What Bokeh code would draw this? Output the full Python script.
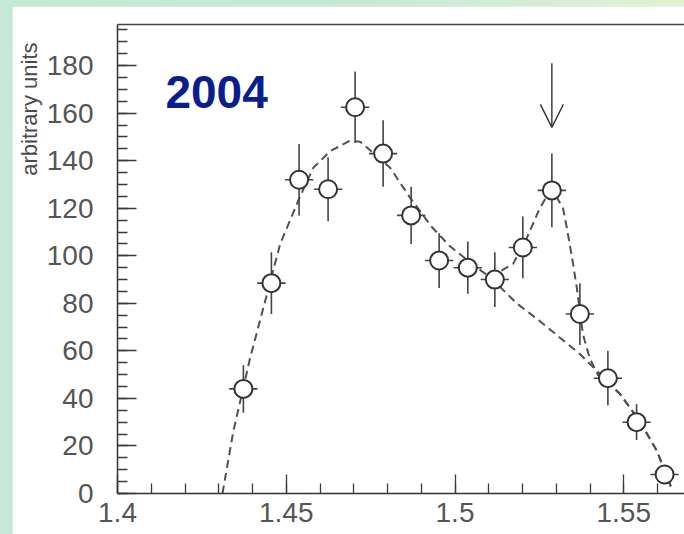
import numpy as np
from bokeh.plotting import figure
from bokeh.models import (Range1d, FixedTicker, CustomJSTickFormatter, LinearAxis,
                          Label, Arrow, OpenHead, ColumnDataSource, Title)
from bokeh.layouts import column
from bokeh.embed import file_html
from bokeh.resources import INLINE

# ---- data ----
mass = [1.4373, 1.4456, 1.4538, 1.4624, 1.4704, 1.4787, 1.4870, 1.4953,
        1.5038, 1.5118, 1.5201, 1.5287, 1.5370, 1.5453, 1.5538, 1.5621]
counts = [44, 88.5, 132, 128, 162.5, 143, 117, 98,
          95, 90, 103.5, 127.5, 75.5, 48.5, 30, 8]
errors = [10, 13, 15, 13.5, 15, 14, 12, 11.5,
          11, 11.5, 13, 15.5, 13, 11.5, 7.5, 4]
bin_half_width = 0.0042

fit_x = [1.4311, 1.4343, 1.4393, 1.4432, 1.4482, 1.4538, 1.4580, 1.4630,
         1.4689, 1.4719, 1.4757, 1.4808, 1.4867, 1.4932, 1.4985, 1.5065,
         1.5104, 1.5172, 1.5213, 1.5251, 1.5272, 1.5290, 1.5320, 1.5331,
         1.5346, 1.5361, 1.5379, 1.5399, 1.5423, 1.5488, 1.5547, 1.5598, 1.5645]
fit_y = [0, 26, 57, 78, 105, 124, 137, 144,
         148.4, 148, 143.4, 137, 124.4, 112, 104, 95,
         91, 96.6, 107.5, 120, 125, 127.4, 120, 112,
         100, 86.5, 67, 57, 50, 42, 30.5, 18, 1]

bg_x = [1.5104, 1.5183, 1.5251, 1.5311, 1.5370, 1.5420, 1.5488, 1.5547, 1.5598, 1.5645]
bg_y = [91, 80, 72.6, 65.5, 58.7, 51.6, 42, 30.5, 18, 1]

x_ticks = [1.4, 1.45, 1.5, 1.55]
x_tick_labels = ["1.4", "1.45", "1.5", "1.55"]
x_minor = [round(1.4 + 0.01 * i, 2) for i in range(17)]
y_ticks = list(range(0, 181, 20))
y_minor = list(range(0, 200, 5))

peak_mass = 1.5287
arrow_top = 181
arrow_tip = 154

title_text = "2004"
y_label = "arbitrary units"

# ---- figure ----
p = figure(width=672, height=528, output_backend="svg", toolbar_location=None,
           x_range=Range1d(1.4, 1.568), y_range=Range1d(0, 197.3),
           min_border_left=105, min_border_right=0, min_border_top=18,
           min_border_bottom=41, x_axis_type=None, y_axis_type=None)
p.margin = (6, 0, 0, 12)
p.background_fill_color = "white"
p.border_fill_color = "white"
p.outline_line_color = None
p.xgrid.visible = False
p.ygrid.visible = False

tick_col = "#3a3a3a"
lab_col = "#555555"

xaxis = LinearAxis(ticker=FixedTicker(ticks=x_ticks, minor_ticks=x_minor),
                   formatter=CustomJSTickFormatter(
                       args=dict(tv=x_ticks, labels=x_tick_labels),
                       code="const i = tv.findIndex(t => Math.abs(t - tick) < 1e-9); return i >= 0 ? labels[i] : '';"))
yaxis = LinearAxis(ticker=FixedTicker(ticks=y_ticks, minor_ticks=y_minor))
for ax in (xaxis, yaxis):
    ax.axis_line_color = "#333333"
    ax.axis_line_width = 1.5
    ax.major_tick_in = 19
    ax.major_tick_out = 0
    ax.minor_tick_in = 10
    ax.minor_tick_out = 0
    ax.major_tick_line_color = tick_col
    ax.minor_tick_line_color = tick_col
    ax.major_tick_line_width = 1.3
    ax.minor_tick_line_width = 1.3
    ax.major_label_text_font = "Liberation Sans"
    ax.major_label_text_font_size = "28px"
    ax.major_label_text_color = lab_col
xaxis.major_label_standoff = 9
yaxis.major_label_standoff = 24
p.add_layout(xaxis, "below")
p.add_layout(yaxis, "left")

top_axis = LinearAxis(ticker=FixedTicker(ticks=[]), axis_line_color="#444444",
                      axis_line_width=1.5, major_tick_in=0, major_tick_out=0,
                      minor_tick_in=0, minor_tick_out=0,
                      major_label_text_font_size="0px", major_label_standoff=0)
p.add_layout(top_axis, "above")

# y-axis caption, placed at the top end of the axis
p.add_layout(Title(text=y_label, align="right", offset=18, standoff=4,
                   text_font="Liberation Sans", text_font_style="normal",
                   text_font_size="22px", text_color="#4a4a4a"), "left")

# ---- curves ----
dash = "8 5"
p.line(fit_x, fit_y, line_color="#505050", line_width=2, line_dash=dash)
p.line(bg_x, bg_y, line_color="#505050", line_width=2, line_dash=dash)

# ---- data points with error bars ----
m = np.array(mass)
c = np.array(counts)
e = np.array(errors)
src = ColumnDataSource(dict(x=m, y=c, lo=c - e, hi=c + e,
                            xl=m - bin_half_width, xr=m + bin_half_width))
p.segment(x0="x", y0="lo", x1="x", y1="hi", source=src, line_color="#444444", line_width=1.6)
p.segment(x0="xl", y0="y", x1="xr", y1="y", source=src, line_color="#444444", line_width=1.6)
p.scatter("x", "y", source=src, size=18, fill_color="white", line_color="#333333", line_width=2)

# ---- arrow ----
p.add_layout(Arrow(end=OpenHead(size=23, line_color="#333333", line_width=1.4),
                   x_start=peak_mass, y_start=arrow_top, x_end=peak_mass, y_end=arrow_tip,
                   line_color="#333333", line_width=1.4))

# ---- texts ----
p.add_layout(Label(x=1.4142, y=169.0, text=title_text, text_font="Liberation Sans",
                   text_font_style="bold", text_font_size="46px", text_color="#0b1e8e",
                   text_align="left", text_baseline="alphabetic"))

layout = column(p, width=684, height=534,
                styles={"background": "linear-gradient(to right, #c6e8d7 0%, #c9e9d6 55%, #e2f2d4 100%)"})

open("out.html", "w").write(file_html(layout, INLINE))
